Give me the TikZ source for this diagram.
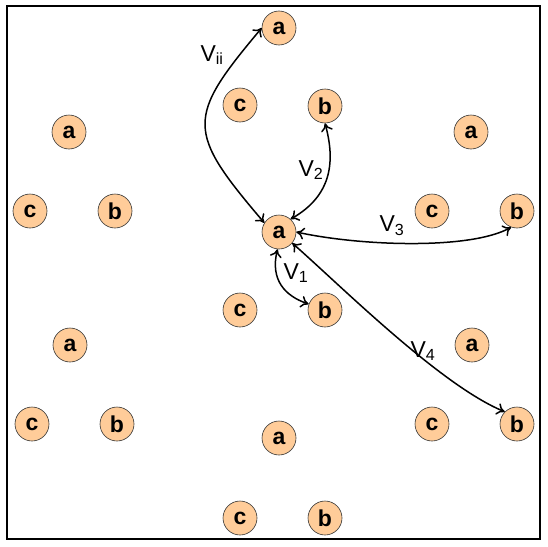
\documentclass[tikz,border=0pt]{standalone}
\usepackage{fontspec}
\setmainfont{Liberation Sans}
\usetikzlibrary{arrows.meta}
\definecolor{peach}{HTML}{FFCC99}
\begin{document}
\begin{tikzpicture}[
  x=1pt, y=-1pt,
  atom/.style={circle,draw=black!80,line width=0.6pt,fill=peach,
    minimum size=34pt,inner sep=0pt,font=\fontsize{23}{23}\selectfont\bfseries},
  link/.style={draw=black,{To[length=8pt,width=12pt]}-{To[length=8pt,width=12pt]},line width=1.5pt},
  lbl/.style={font=\fontsize{23}{23}\selectfont,inner sep=0pt}
]
  \useasboundingbox (0,0) rectangle (548,546);
  \draw[line width=2pt] (7,6) rectangle (540,539);

  \node[atom] (a1) at (279, 28) {a};
  \node[atom] (a2) at (69, 132) {a};
  \node[atom] (a3) at (471, 132) {a};
  \node[atom] (a0) at (279, 232) {a};
  \node[atom] (a4) at (70, 345) {a};
  \node[atom] (a5) at (472, 345) {a};
  \node[atom] (a6) at (279, 438) {a};

  \node[atom] (b1) at (325, 106) {b};
  \node[atom] (b2) at (115, 211) {b};
  \node[atom] (b3) at (517, 211) {b};
  \node[atom] (b4) at (325, 310) {b};
  \node[atom] (b5) at (117, 424) {b};
  \node[atom] (b6) at (517, 424) {b};
  \node[atom] (b7) at (325, 518) {b};

  \node[atom] (c1) at (240, 105) {c};
  \node[atom] (c2) at (30, 211) {c};
  \node[atom] (c3) at (432, 211) {c};
  \node[atom] (c4) at (240, 310) {c};
  \node[atom] (c5) at (32, 424) {c};
  \node[atom] (c6) at (432, 424) {c};
  \node[atom] (c7) at (240, 518) {c};

  \draw[link] (a1.west) .. controls (186,118) and (186,131) .. (a0.148);
  \draw[link] (b1.south) .. controls (335,160) and (333,195) .. (a0.48);
  \draw[link] (a0.east) .. controls (360,246) and (470,250) .. (b3.250);
  \draw[link] (a0.-40) .. controls (340,285) and (440,385) .. (b6.135);
  \draw[link] (a0.265) .. controls (270,280) and (285,296) .. (b4.160);

  \node[lbl] (vii) at (212, 55) {V\textsubscript{ii}};
  \node[lbl] (v2) at (311, 170) {V\textsubscript{2}};
  \node[lbl] (v3) at (392, 226) {V\textsubscript{3}};
  \node[lbl] (v1) at (296, 273) {V\textsubscript{1}};
  \node[lbl] (v4) at (423, 351) {V\textsubscript{4}};
\end{tikzpicture}
\end{document}
